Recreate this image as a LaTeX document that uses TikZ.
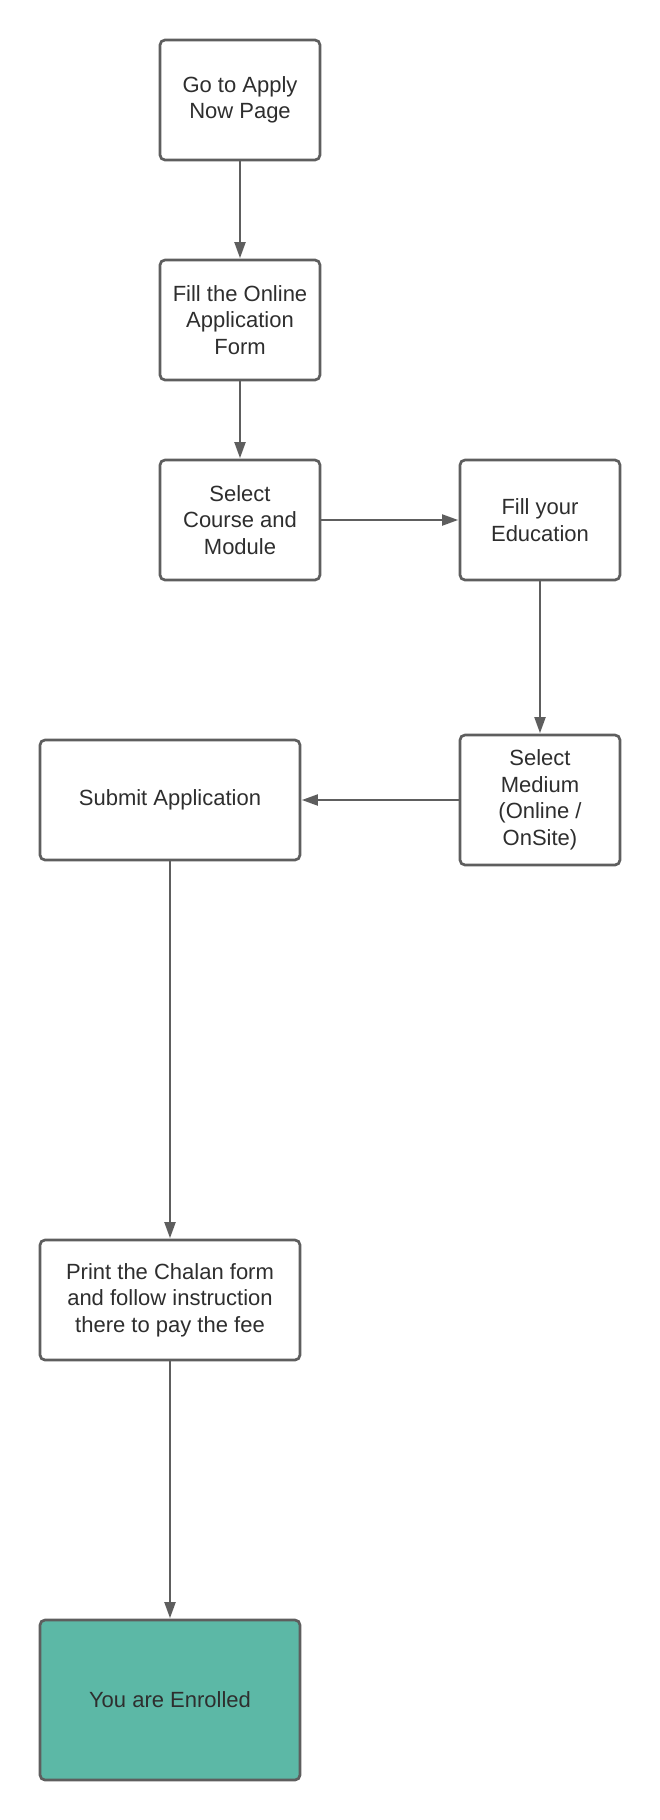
\documentclass[tikz,border=0pt]{standalone}
\usepackage{fontspec}
\setmainfont{Liberation Sans}
\usetikzlibrary{arrows.meta}
\definecolor{edgegrey}{HTML}{5E5E5E}
\definecolor{txtgrey}{HTML}{2E2E2E}
\definecolor{teal}{HTML}{5CB8A6}
\tikzset{
  stepbox/.style={draw=edgegrey, line width=2.7pt, rounded corners=5pt, fill=white,
    align=center, text=txtgrey, inner sep=0pt,
    font=\fontsize{22}{26.5}\selectfont},
  flow/.style={draw=edgegrey, line width=2pt,
    -{Triangle[length=16pt,width=11pt]}, shorten >=0.5pt}
}
\begin{document}
\begin{tikzpicture}[x=1pt,y=-1pt]
\useasboundingbox[fill=white] (0,0) rectangle (660,1820);
\node[stepbox, minimum width=160pt, minimum height=120pt] (b1) at (240,100) {Go to Apply\\Now Page};
\node[stepbox, minimum width=160pt, minimum height=120pt] (b2) at (240,320) {Fill the Online\\Application\\Form};
\node[stepbox, minimum width=160pt, minimum height=120pt] (b3) at (240,520) {Select\\Course and\\Module};
\node[stepbox, minimum width=160pt, minimum height=120pt] (b4) at (540,520) {Fill your\\Education};
\node[stepbox, minimum width=160pt, minimum height=130pt] (b5) at (540,800) {Select\\Medium\\(Online /\\OnSite)};
\node[stepbox, minimum width=260pt, minimum height=120pt] (b6) at (170,800) {Submit Application};
\node[stepbox, minimum width=260pt, minimum height=120pt] (b7) at (170,1300) {Print the Chalan form\\and follow instruction\\there to pay the fee};
\node[stepbox, fill=teal, minimum width=260pt, minimum height=160pt] (b8) at (170,1700) {You are Enrolled};
\draw[flow] (b1) -- (b2);
\draw[flow] (b2) -- (b3);
\draw[flow] (b3) -- (b4);
\draw[flow] (b4) -- (b5);
\draw[flow] (b5) -- (b6);
\draw[flow] (b6) -- (b7);
\draw[flow] (b7) -- (b8);
\end{tikzpicture}
\end{document}
